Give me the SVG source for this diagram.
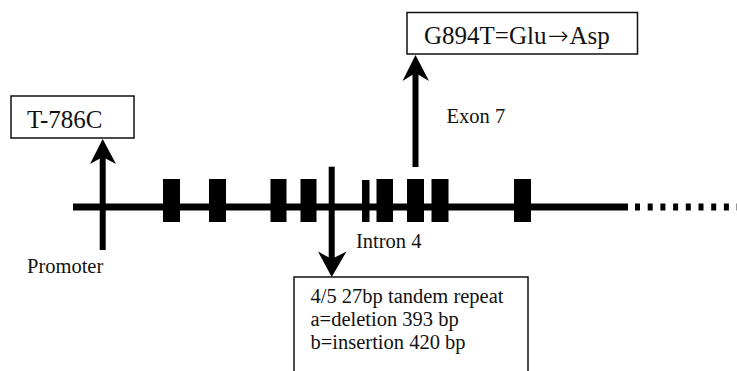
<svg xmlns="http://www.w3.org/2000/svg" width="737" height="371" viewBox="0 0 737 371">
<style>
.t{font-family:"Liberation Serif","Times New Roman",serif;fill:#111}
.lb{font-size:25px}
.sm{font-size:20.5px}
.ar{font-family:"DejaVu Sans",sans-serif;font-weight:200}
.box{fill:#fff;stroke:#111;stroke-width:1.5}
.ln{stroke:#000;stroke-width:6;fill:none}
.ml{stroke:#000;stroke-width:7;fill:none}
.ex{fill:#000}
.ah{fill:#000}
</style>
<rect width="737" height="371" fill="#fff"/>
<g id="gene">
<line class="ml" x1="73" y1="207" x2="628" y2="207"/>
<line class="ml" x1="635" y1="207" x2="737" y2="207" stroke-dasharray="5 7.7"/>
<rect class="ex" x="163" y="179" width="17" height="43"/>
<rect class="ex" x="209" y="179" width="17" height="43"/>
<rect class="ex" x="270.5" y="179" width="16" height="43"/>
<rect class="ex" x="300.5" y="179" width="16" height="43"/>
<rect class="ex" x="362" y="180" width="7.5" height="42"/>
<rect class="ex" x="376.5" y="179" width="16.5" height="43"/>
<rect class="ex" x="407" y="179" width="17" height="43"/>
<rect class="ex" x="431.5" y="179" width="17" height="43"/>
<rect class="ex" x="514" y="179" width="17" height="43"/>
</g>
<g id="connectors">
<line class="ln" x1="102.7" y1="250" x2="102.7" y2="155"/>
<polygon class="ah" points="102.7,139 116,164 102.7,157 90,164"/>
<line class="ln" x1="415.5" y1="167" x2="415.5" y2="72"/>
<polygon class="ah" points="415.5,55 429,81 415.5,73 402.5,81"/>
<line class="ln" x1="331.7" y1="166.7" x2="331.7" y2="262"/>
<polygon class="ah" points="331.7,277 346.5,251.5 331.7,259 318,251.5"/>
</g>
<g id="n-t786c">
<rect class="box" x="11" y="96" width="123" height="42"/>
<text class="t lb" x="27" y="128">T-786C</text>
</g>
<g id="n-promoter">
<text class="t sm" x="27" y="273">Promoter</text>
</g>
<g id="n-g894t">
<rect class="box" x="407" y="12.5" width="230.5" height="41.5"/>
<text class="t lb" x="424" y="43.5">G894T=Glu<tspan class="ar" dx="1">→</tspan><tspan dx="1">Asp</tspan></text>
</g>
<g id="n-exon7">
<text class="t sm" x="446.5" y="123.3">Exon 7</text>
</g>
<g id="n-intron4">
<text class="t sm" x="356" y="247.5">Intron 4</text>
</g>
<g id="n-repeat">
<rect class="box" x="294" y="277" width="234" height="110"/>
<text class="t sm" x="310.5" y="303.3">4/5 27bp tandem repeat</text>
<text class="t sm" x="310.5" y="326">a=deletion 393 bp</text>
<text class="t sm" x="310.5" y="349.3">b=insertion 420 bp</text>
</g>
</svg>
